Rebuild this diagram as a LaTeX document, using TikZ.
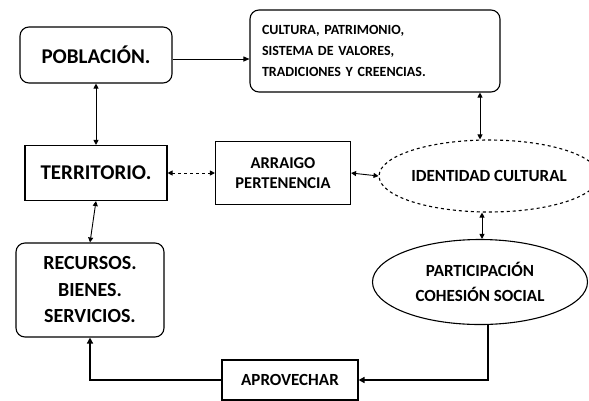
\documentclass[tikz,border=0pt]{standalone}
\usepackage{fontspec}
\setmainfont{Carlito}
\usetikzlibrary{shapes.geometric,arrows.meta}

\begin{document}
\begin{tikzpicture}[x=1pt,y=-1pt,
    caja/.style={draw,line width=1.1pt,rounded corners=9pt,align=center},
    cajarect/.style={draw,line width=1.1pt,align=center},
    elipse/.style={draw,ellipse,line width=1.1pt,align=center,inner sep=0pt},
    flecha/.style={line width=0.9pt,{Triangle[length=5pt,width=5pt]}-{Triangle[length=5pt,width=5pt]}},
    grueso/.style={line width=2.6pt,-{Triangle[length=6pt,width=6pt]}}]
        \useasboundingbox (0,0) rectangle (589,400);
        \node[caja,minimum width=152,minimum height=56,font=\fontsize{21}{24}\selectfont\bfseries] (pob) at (96,55) {POBLACIÓN.};
        \node[caja,minimum width=250,minimum height=82,align=left,text width=226,font=\fontsize{14}{21}\selectfont\bfseries] (cult) at (375,51)
            {CULTURA, PATRIMONIO,\\ SISTEMA DE VALORES,\\ TRADICIONES Y CREENCIAS.};
        \node[cajarect,minimum width=142,minimum height=55,font=\fontsize{21}{24}\selectfont\bfseries] (terr) at (96,173) {TERRITORIO.};
        \node[cajarect,minimum width=135,minimum height=63,font=\fontsize{16.5}{20}\selectfont\bfseries] (arr) at (283,173) {ARRAIGO\\ PERTENENCIA};
        \node[elipse,dashed,minimum width=192,minimum height=72,font=\fontsize{17}{20}\selectfont\bfseries] (ident) at (489,176) {IDENTIDAD CULTURAL};
        \node[elipse,minimum width=215,minimum height=85,font=\fontsize{17}{25}\selectfont\bfseries] (part) at (480,282) {PARTICIPACIÓN\\ COHESIÓN SOCIAL};
        \node[cajarect,minimum width=136,minimum height=40,font=\fontsize{17}{20}\selectfont\bfseries] (apro) at (290,380) {APROVECHAR};
        \node[caja,minimum width=148,minimum height=94,font=\fontsize{20}{26.5}\selectfont\bfseries] (rec) at (90,290)
            {RECURSOS.\\ BIENES.\\ SERVICIOS.};
        % conexiones
        \draw[line width=0.9pt,-{Triangle[length=6pt,width=5pt]}] ([yshift=-4pt]pob.east) -- ([yshift=-4pt]pob.east -| cult.west);
        \draw[flecha] (pob.south) -- (terr.north);
        \draw[flecha,dashed] (terr.east) -- (arr.west);
        \draw[flecha] (arr.east) -- (ident.west);
        \draw[flecha] (ident.north -| 480,0) -- (cult.south -| 480,0);
        \draw[flecha] (ident.south -| 482,0) -- (part.north -| 482,0);
        \draw[flecha] (terr.south) -- (rec.north);
        \draw[grueso] (part.south -| 488,0) |- (apro.east);
        \draw[grueso] (apro.west) -| (rec.south);
    \end{tikzpicture}
\end{document}
